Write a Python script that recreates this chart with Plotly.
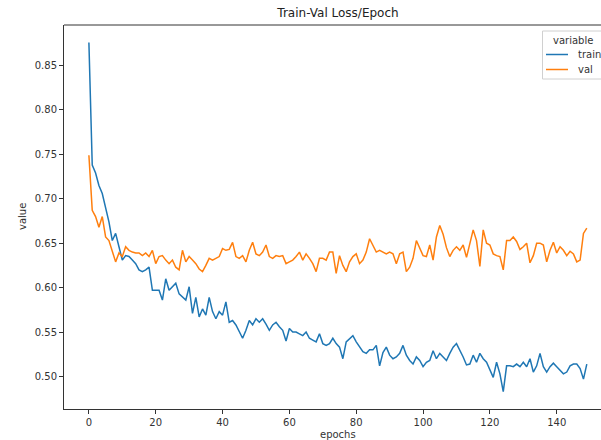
import plotly.graph_objects as go

epochs = list(range(150))

train = [
    0.876, 0.738, 0.729, 0.715, 0.706, 0.691,
    0.674, 0.653, 0.661, 0.646, 0.631, 0.636, 0.635, 0.631, 0.627, 0.620,
    0.618, 0.620, 0.623, 0.597, 0.597, 0.597, 0.586, 0.610, 0.597, 0.601,
    0.605, 0.593, 0.590, 0.586, 0.601, 0.571,
    0.589, 0.567, 0.576, 0.569, 0.589, 0.573, 0.565, 0.573, 0.569, 0.584,
    0.561, 0.563, 0.558, 0.550, 0.543, 0.552, 0.563, 0.558, 0.565, 0.561,
    0.565, 0.559, 0.552, 0.558, 0.561, 0.556, 0.552,
    0.540, 0.554, 0.550, 0.550, 0.548, 0.546, 0.550, 0.543, 0.541, 0.539,
    0.548, 0.537, 0.535, 0.537, 0.543, 0.537, 0.533, 0.520, 0.539, 0.543,
    0.546, 0.539, 0.533, 0.528, 0.526, 0.530, 0.530, 0.535,
    0.512, 0.527, 0.533, 0.524, 0.520, 0.522, 0.526, 0.535, 0.524, 0.518,
    0.514, 0.522, 0.518, 0.511, 0.516, 0.518, 0.529, 0.520, 0.526, 0.522,
    0.518, 0.526, 0.533, 0.537, 0.530, 0.522, 0.513,
    0.514, 0.524, 0.516, 0.526, 0.520, 0.516, 0.507, 0.499, 0.516, 0.503,
    0.483, 0.512, 0.512, 0.511, 0.514, 0.511, 0.516, 0.511, 0.520, 0.505,
    0.512, 0.526, 0.511, 0.505, 0.511, 0.515, 0.511, 0.507, 0.503, 0.505,
    0.512, 0.514, 0.514, 0.509, 0.497, 0.514,
]

val = [
    0.749, 0.687, 0.680, 0.668, 0.680, 0.657,
    0.653, 0.642, 0.629, 0.639, 0.635, 0.646, 0.642, 0.640, 0.639, 0.639,
    0.636, 0.639, 0.635, 0.642, 0.627, 0.635, 0.636, 0.631, 0.627, 0.631,
    0.623, 0.620, 0.642, 0.629, 0.635, 0.631,
    0.627, 0.621, 0.618, 0.625, 0.633, 0.631, 0.633, 0.635, 0.644, 0.642,
    0.643, 0.651, 0.635, 0.633, 0.636, 0.629, 0.642, 0.651, 0.638, 0.636,
    0.640, 0.648, 0.635, 0.633, 0.636, 0.635, 0.636,
    0.627, 0.629, 0.631, 0.635, 0.640, 0.631, 0.638, 0.633, 0.627, 0.618,
    0.633, 0.633, 0.631, 0.640, 0.640, 0.616, 0.636, 0.625, 0.618, 0.629,
    0.635, 0.638, 0.627, 0.631, 0.640, 0.655, 0.648, 0.640,
    0.642, 0.640, 0.638, 0.640, 0.638, 0.627, 0.638, 0.640, 0.618, 0.623,
    0.633, 0.653, 0.645, 0.636, 0.635, 0.648, 0.631, 0.657, 0.670, 0.660,
    0.645, 0.635, 0.642, 0.646, 0.642, 0.648, 0.634,
    0.650, 0.665, 0.653, 0.624, 0.665, 0.650, 0.648, 0.638, 0.636, 0.635,
    0.620, 0.653, 0.653, 0.657, 0.652, 0.643, 0.646, 0.650, 0.628, 0.636,
    0.650, 0.650, 0.648, 0.629, 0.642, 0.651, 0.639, 0.646, 0.642, 0.636,
    0.641, 0.638, 0.629, 0.631, 0.661, 0.667,
]

series_names = ["train", "val"]
series_colors = ["#1f77b4", "#ff7f0e"]
legend_title = "variable"

x_ticks = [0, 20, 40, 60, 80, 100, 120, 140]
y_ticks = [0.50, 0.55, 0.60, 0.65, 0.70, 0.75, 0.80, 0.85]

W, H = 601, 440
ML, MT, MB = 64, 25, 31
PW = W - ML
PH = H - MT - MB


def px(xp):
    return (xp - ML) / PW


def py(yp):
    return (H - MB - yp) / PH


fig = go.Figure()
for name, ys, col in zip(series_names, [train, val], series_colors):
    fig.add_trace(go.Scatter(x=epochs, y=ys, mode="lines", name=name,
                             line=dict(color=col, width=1.5), showlegend=False))

axis_common = dict(showline=True, linecolor="#333", linewidth=1, ticks="outside",
                   ticklen=4, tickwidth=1, tickcolor="#333", showgrid=False,
                   zeroline=False, tickfont=dict(size=10, color="#333"))

shapes = [
    dict(type="line", xref="paper", yref="paper", x0=0, x1=1, y0=1, y1=1,
         line=dict(color="#333", width=1)),
    # legend frame
    dict(type="rect", xref="paper", yref="paper", x0=px(542.5), x1=px(620),
         y0=py(79), y1=py(31), line=dict(color="#d0d0d0", width=1),
         fillcolor="rgba(255,255,255,0.85)"),
]
annotations = [
    dict(text="epochs", xref="paper", yref="paper", x=px(338), y=py(434),
         xanchor="center", yanchor="middle", showarrow=False,
         font=dict(size=10, color="#333")),
    dict(text="value", xref="paper", yref="paper", x=px(22), y=0.5,
         xanchor="center", yanchor="middle", textangle=-90, showarrow=False,
         font=dict(size=10, color="#333")),
    dict(text=legend_title, xref="paper", yref="paper", x=px(572.5), y=py(40.5),
         xanchor="center", yanchor="middle", showarrow=False,
         font=dict(size=10, color="#333")),
]
for k, (name, col) in enumerate(zip(series_names, series_colors)):
    yy = 54.5 + 15 * k
    shapes.append(dict(type="line", xref="paper", yref="paper", x0=px(546), x1=px(568),
                       y0=py(yy), y1=py(yy), line=dict(color=col, width=1.5)))
    annotations.append(dict(text=name, xref="paper", yref="paper", x=px(576), y=py(yy),
                            xanchor="left", yanchor="middle", showarrow=False,
                            font=dict(size=10, color="#333")))

fig.update_layout(
    width=W, height=H,
    margin=dict(l=ML, r=0, t=MT, b=MB, pad=0, autoexpand=False),
    paper_bgcolor="white", plot_bgcolor="white",
    font=dict(family="DejaVu Sans", size=10, color="#333"),
    title=dict(text="Train-Val Loss/Epoch", x=338 / W, xref="container", xanchor="center",
               y=1 - 13 / H, yref="container", yanchor="middle",
               font=dict(size=12, color="#222")),
    xaxis=dict(range=[-7.45, 153.25], tickvals=x_ticks, **axis_common),
    yaxis=dict(range=[0.4634, 0.8956], tickvals=y_ticks, tickformat=".2f", **axis_common),
    showlegend=False,
    hovermode=False,
    shapes=shapes,
    annotations=annotations,
)

fig.write_html("out.html", config={"displayModeBar": False, "staticPlot": True},
               post_script="document.body.style.margin='0';document.body.style.padding='0';")
